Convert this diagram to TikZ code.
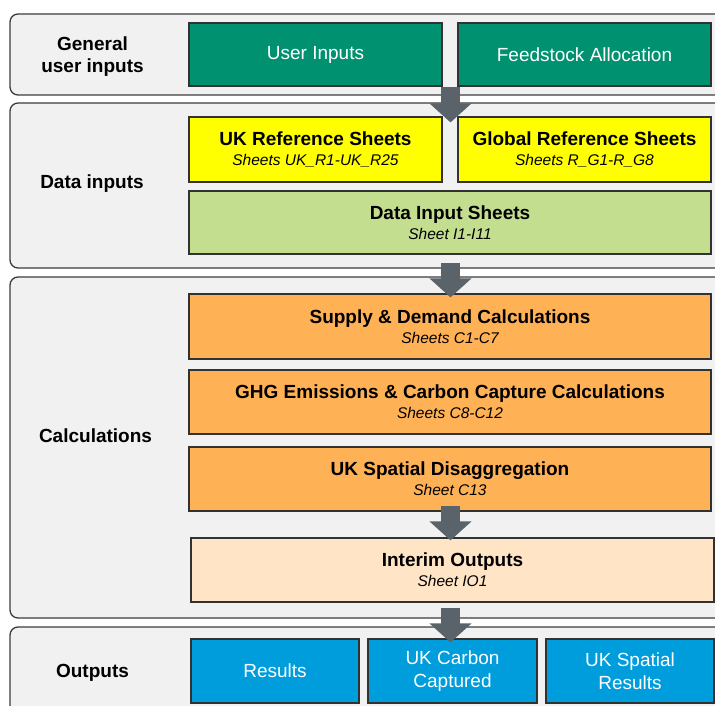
\documentclass[tikz,border=0pt]{standalone}
\usepackage{fontspec}
\setmainfont{Liberation Sans}
\usetikzlibrary{arrows.meta,calc}
\definecolor{panelgray}{RGB}{241,241,241}
\definecolor{panelline}{RGB}{60,60,60}
\definecolor{boxline}{RGB}{50,50,50}
\definecolor{dkgreen}{RGB}{0,146,112}
\definecolor{ylw}{RGB}{255,255,0}
\definecolor{ltgreen}{RGB}{195,222,143}
\definecolor{orng}{RGB}{255,177,85}
\definecolor{peach}{RGB}{255,229,198}
\definecolor{blu}{RGB}{0,157,221}
\definecolor{arrowgray}{RGB}{90,98,106}
\newcommand\ttl[1]{{\bfseries #1}}
\newcommand\subt[1]{{\fontsize{15.5}{20}\selectfont\itshape #1}}
\begin{document}
\begin{tikzpicture}[x=1pt,y=-1pt,
  panel/.style={draw=panelline, fill=panelgray, rounded corners=8pt, line width=1.3pt},
  box/.style={draw=boxline, line width=1.2pt, inner sep=0pt, align=center,
    font=\fontsize{19}{20}\selectfont},
  wbox/.style={box, text=white, font=\fontsize{19}{23}\selectfont},
  seclabel/.style={align=center, font=\fontsize{19}{22}\selectfont\bfseries},
  bigarrow/.style={line width=19pt, draw=arrowgray, -{Triangle[width=41pt,length=19pt]}}
]
\useasboundingbox (0,0) rectangle (715,706);
% panels
\draw[panel] (10,14) rectangle (728,95);
\draw[panel] (10,103) rectangle (728,268);
\draw[panel] (10,277) rectangle (728,618);
\draw[panel] (10,627) rectangle (728,725);
% section labels
\node[seclabel] (l1) at (92.5,57) {General\\user inputs};
\node[seclabel] (l2) at (92,184) {Data inputs};
\node[seclabel] (l3) at (95.5,435.5) {Calculations};
\node[seclabel] (l4) at (92.5,673) {Outputs};
% boxes
\node[wbox, fill=dkgreen, minimum width=253pt, minimum height=63pt] (ui) at (315.5,54.5) {User Inputs};
\node[wbox, fill=dkgreen, minimum width=253pt, minimum height=63pt] (fa) at (584.5,54.5) {Feedstock Allocation};
\node[box, fill=ylw, minimum width=253pt, minimum height=65pt] (ukr) at (315.5,149.5) {\ttl{UK Reference Sheets}\\\subt{Sheets UK\_R1-UK\_R25}};
\node[box, fill=ylw, minimum width=253pt, minimum height=65pt] (glr) at (584.5,149.5) {\ttl{Global Reference Sheets}\\\subt{Sheets R\_G1-R\_G8}};
\node[box, fill=ltgreen, minimum width=522pt, minimum height=63pt] (dis) at (450,222.5) {\ttl{Data Input Sheets}\\\subt{Sheet I1-I11}};
\node[box, fill=orng, minimum width=522pt, minimum height=65pt] (sd) at (450,326.5) {\ttl{Supply \& Demand Calculations}\\\subt{Sheets C1-C7}};
\node[box, fill=orng, minimum width=522pt, minimum height=64pt] (ghg) at (450,402) {\ttl{GHG Emissions \& Carbon Capture Calculations}\\\subt{Sheets C8-C12}};
\node[box, fill=orng, minimum width=522pt, minimum height=64pt] (usd) at (450,479) {\ttl{UK Spatial Disaggregation}\\\subt{Sheet C13}};
\node[box, fill=peach, minimum width=523pt, minimum height=64pt] (io) at (452.5,570) {\ttl{Interim Outputs}\\\subt{Sheet IO1}};
\node[wbox, fill=blu, minimum width=168pt, minimum height=64pt] (res) at (275,671) {Results};
\node[wbox, fill=blu, minimum width=169pt, minimum height=64pt] (ukcc) at (452.5,671) {UK Carbon\\Captured};
\node[wbox, fill=blu, minimum width=168pt, minimum height=64pt] (usr) at (630,671) {UK Spatial\\Results};
% arrows
\coordinate (a1s) at ($(ui.south east)!0.5!(fa.south west)+(0.5,0)$);
\coordinate (a1e) at ($(ukr.north east)!0.5!(glr.north west)+(0.5,6)$);
\draw[bigarrow] (a1s) -- (a1e);
\coordinate (a2s) at ($(dis.south)+(0.5,8)$);
\coordinate (a2e) at ($(sd.north)+(0.5,4)$);
\draw[bigarrow] (a2s) -- (a2e);
\coordinate (a3s) at ($(usd.south)+(0.5,-6)$);
\coordinate (a3e) at ($(io.north)+(-2,3)$);
\draw[bigarrow] (a3s) -- (a3e);
\coordinate (a4s) at ($(io.south)+(-2,5)$);
\coordinate (a4e) at ($(ukcc.north)+(-2,4)$);
\draw[bigarrow] (a4s) -- (a4e);
\end{tikzpicture}
\end{document}
